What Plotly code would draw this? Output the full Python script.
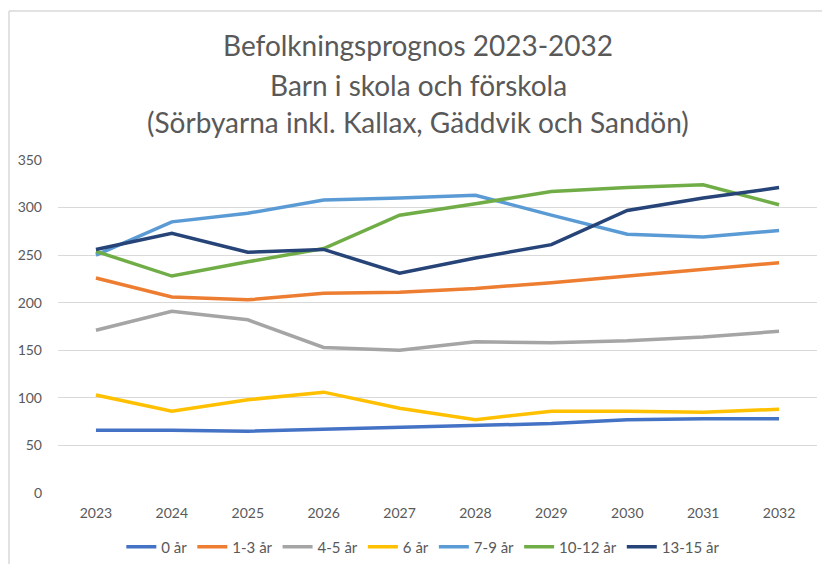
import plotly.graph_objects as go

years = ["2023", "2024", "2025", "2026", "2027", "2028", "2029", "2030", "2031", "2032"]
series_names = ["0 år", "1-3 år", "4-5 år", "6 år", "7-9 år", "10-12 år", "13-15 år"]
v_0 = [66, 66, 65, 67, 69, 71, 73, 77, 78, 78]
v_1_3 = [226, 206, 203, 210, 211, 215, 221, 228, 235, 242]
v_4_5 = [171, 191, 182, 153, 150, 159, 158, 160, 164, 170]
v_6 = [103, 86, 98, 106, 89, 77, 86, 86, 85, 88]
v_7_9 = [250, 285, 294, 308, 310, 313, 292, 272, 269, 276]
v_10_12 = [254, 228, 243, 257, 292, 304, 317, 321, 324, 303]
v_13_15 = [256, 273, 253, 256, 231, 247, 261, 297, 310, 321]
title_lines = ["Befolkningsprognos 2023-2032", "Barn i skola och förskola",
               "(Sörbyarna inkl. Kallax, Gäddvik och Sandön)"]

values = [v_0, v_1_3, v_4_5, v_6, v_7_9, v_10_12, v_13_15]
colors = ["#4472C4", "#ED7D31", "#A5A5A5", "#FFC000", "#5B9BD5", "#70AD47", "#264478"]

FONT = "Lato"
TXT = "#595959"

fig = go.Figure()
for name, vals, col in zip(series_names, values, colors):
    fig.add_trace(go.Scatter(x=years, y=vals, name=name, mode="lines",
                             line=dict(color=col, width=3.5)))

W, H = 822, 564
ml, mr, mt, mb = 58, 5, 160, 71
ph = H - mt - mb

annos = []
for txt, ypx in zip(title_lines, [45, 85, 122]):
    annos.append(dict(text=txt, xref="paper", yref="paper",
                      x=(418 - ml) / (W - ml - mr), y=(H - mb - ypx) / ph,
                      xanchor="center", yanchor="middle", showarrow=False,
                      font=dict(family=FONT, size=28, color=TXT)))

fig.update_layout(
    width=W, height=H,
    margin=dict(l=ml, r=mr, t=mt, b=mb, pad=0),
    paper_bgcolor="white", plot_bgcolor="white",
    font=dict(family=FONT, size=14, color=TXT),
    annotations=annos,
    showlegend=True,
    legend=dict(orientation="h", xref="container", x=0.515, xanchor="center",
                yref="container", y=(H - 547) / H, yanchor="middle",
                font=dict(size=15, color=TXT), itemwidth=30,
                tracegroupgap=0),
    xaxis=dict(type="category", showgrid=False, zeroline=False, showline=False,
               ticks="", tickfont=dict(size=14, color=TXT), ticklabelstandoff=10,
               range=[-0.5, 9.5]),
    yaxis=dict(range=[0, 350], dtick=50, showgrid=True, gridcolor="#D9D9D9",
               gridwidth=1, zeroline=False, showline=False, ticks="",
               tickfont=dict(size=14, color=TXT), ticklabelstandoff=15),
    shapes=[
        dict(type="line", xref="paper", yref="paper",
             x0=(9 - ml) / (W - ml - mr), x1=1.05,
             y0=(H - mb - 11) / ph, y1=(H - mb - 11) / ph,
             line=dict(color="#D9D9D9", width=1.5)),
        dict(type="line", xref="paper", yref="paper",
             x0=(9 - ml) / (W - ml - mr), x1=(9 - ml) / (W - ml - mr),
             y0=(H - mb - 11) / ph, y1=-0.3,
             line=dict(color="#D9D9D9", width=1.5)),
    ],
)

fig.write_html("out.html", config={"displayModeBar": False},
               post_script="document.body.style.margin='0';")
